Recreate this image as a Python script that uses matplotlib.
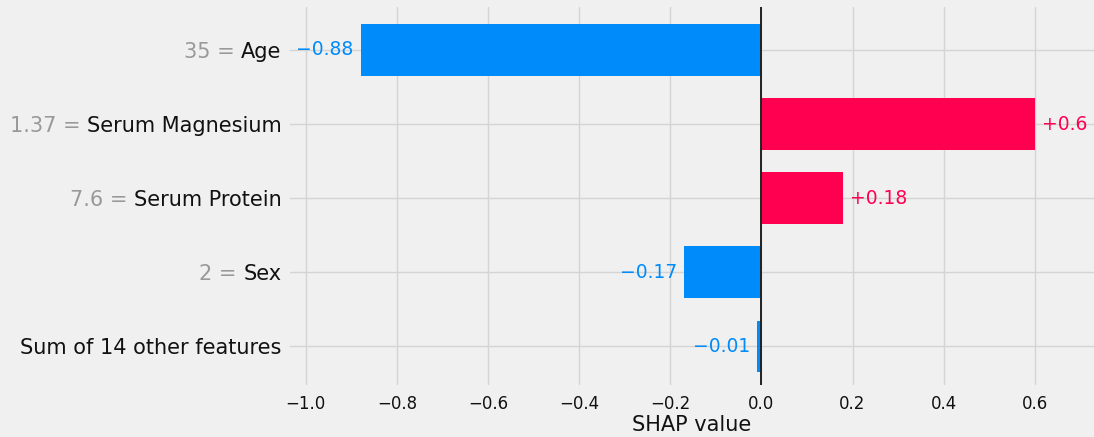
import numpy as np
import matplotlib
matplotlib.use("Agg")
import matplotlib.pyplot as plt

# SHAP contributions for a single prediction, top row first
feature_names = ["Age", "Serum Magnesium", "Serum Protein", "Sex", "Sum of 14 other features"]
feature_values = ["35", "1.37", "7.6", "2", None]
shap_values = [-0.88, 0.6, 0.18, -0.17, -0.01]
x_ticks = [-1.0, -0.8, -0.6, -0.4, -0.2, 0.0, 0.2, 0.4, 0.6]

BLUE = "#008bfb"
RED = "#ff0051"
BG = "#f0f0f0"


def fmt(v):
    s = f"{v:+.2f}".rstrip("0").rstrip(".")
    return s.replace("-", "\u2212")


def main():
    fig = plt.figure(figsize=(10.94, 4.37), dpi=100, facecolor=BG)
    ax = fig.add_axes([0.265, 0.119, 0.735, 0.865], facecolor=BG)

    n = len(feature_names)
    y_pos = np.arange(n)[::-1]
    vals = np.array(shap_values)
    colors = [RED if v > 0 else BLUE for v in vals]

    ax.set_axisbelow(True)
    ax.grid(True, color="#d4d4d4", lw=1.0)
    ax.barh(y_pos, vals, height=0.7, color=colors, zorder=2)
    ax.axvline(0, color="#222222", lw=1.4, zorder=3)

    for y, v, c in zip(y_pos, vals, colors):
        if v > 0:
            ax.annotate(fmt(v), (v, y), xytext=(5, 0), textcoords="offset points",
                        ha="left", va="center", color=c, fontsize=13.5)
        else:
            ax.annotate(fmt(v), (v, y), xytext=(-5, 0), textcoords="offset points",
                        ha="right", va="center", color=c, fontsize=13.5)

    ax.set_xlim(-1.035, 0.73)
    ax.set_ylim(-0.52, n - 1 + 0.58)
    ax.set_xticks(x_ticks)
    ax.set_xticklabels([f"{t:.1f}".replace("-", "\u2212") for t in x_ticks])
    ax.set_yticks(y_pos)
    ax.set_yticklabels(feature_names)
    ax.tick_params(axis="y", length=0, pad=6, labelsize=15, labelcolor="#111111")
    ax.tick_params(axis="x", length=0, pad=7, labelsize=12, labelcolor="#111111")
    ax.set_xlabel("SHAP value", fontsize=15, labelpad=2, color="#111111")
    for sp in ax.spines.values():
        sp.set_visible(False)

    # gray feature values in front of the names, on the same baseline
    fig.canvas.draw()
    renderer = fig.canvas.get_renderer()
    inv = fig.transFigure.inverted()
    for lab, y, fv in zip(ax.get_yticklabels(), y_pos, feature_values):
        if fv is None:
            continue
        bb = lab.get_window_extent(renderer)
        yd = ax.transData.transform((0, y))[1]
        xf, yf = inv.transform((bb.x0, yd))
        fig.text(xf, yf, fv + " = ", ha="right", va="center_baseline",
                 fontsize=15, color="#999999")

    fig.savefig("out.png", dpi=100, facecolor=BG)


if __name__ == "__main__":
    main()
